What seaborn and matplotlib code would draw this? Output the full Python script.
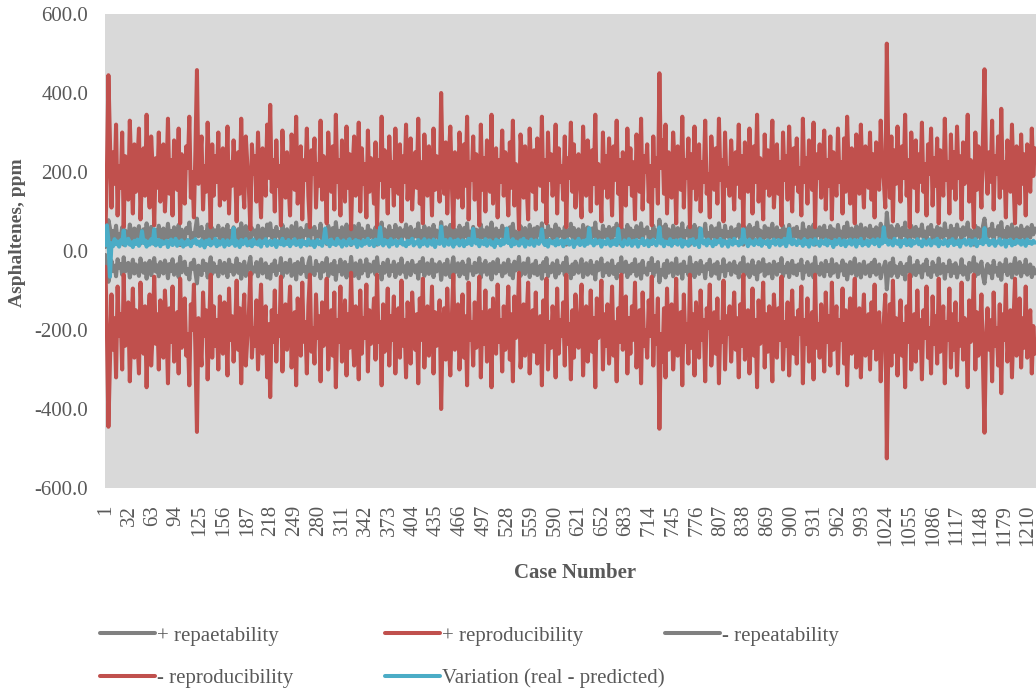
import numpy as np
import pandas as pd
import matplotlib
matplotlib.use("Agg")
import matplotlib.pyplot as plt
import seaborn as sns

# one value every 2 cases (case 1, 3, 5, ...)
case_step = 2
n_cases = 1220

reproducibility = [
    40, 200, 445, 280, 110, 250, 170, 320, 90, 215, 160, 300, 60, 240, 185, 130, 330, 200, 95, 270,
    150, 225, 310, 80, 190, 260, 140, 345, 175, 110, 290, 205, 65, 235, 160, 300, 125, 215, 270, 100,
    185, 335, 145, 230, 90, 280, 195, 155, 310, 70, 245, 180, 120, 265, 210, 340, 135, 200, 85, 255,
    458, 170, 230, 290, 105, 215, 150, 325, 190, 60, 270, 140, 240, 175, 300, 115, 205, 260, 130, 185,
    315, 95, 225, 165, 280, 200, 75, 250, 145, 335, 180, 110, 290, 220, 160, 55, 270, 195, 240, 125,
    300, 170, 85, 260, 210, 140, 320, 185, 370, 150, 230, 100, 280, 165, 215, 65, 305, 190, 135, 250,
    175, 90, 295, 220, 155, 340, 120, 200, 265, 80, 230, 180, 310, 140, 60, 255, 195, 285, 110, 220,
    165, 330, 130, 240, 190, 70, 300, 215, 150, 265, 105, 345, 175, 230, 90, 280, 200, 125, 315, 160,
    245, 55, 210, 290, 140, 185, 325, 100, 260, 170, 220, 85, 305, 150, 235, 195, 120, 275, 60, 230,
    180, 340, 135, 255, 205, 95, 290, 165, 225, 115, 310, 190, 145, 270, 75, 240, 175, 320, 130, 210,
    285, 105, 195, 250, 160, 335, 120, 225, 70, 295, 180, 140, 265, 210, 90, 310, 155, 240, 185, 125,
    400, 200, 145, 275, 95, 230, 315, 170, 60, 250, 190, 135, 300, 215, 110, 270, 165, 340, 80, 225,
    180, 290, 130, 245, 205, 65, 320, 155, 235, 100, 280, 195, 150, 345, 120, 210, 260, 85, 230, 175,
    305, 140, 250, 190, 90, 275, 160, 330, 115, 220, 185, 55, 295, 240, 135, 265, 170, 80, 310, 200,
    150, 255, 105, 285, 210, 165, 340, 125, 230, 70, 300, 180, 245, 140, 195, 320, 95, 260, 175, 215,
    130, 290, 60, 235, 185, 325, 150, 270, 110, 205, 245, 165, 85, 315, 195, 140, 280, 225, 100, 255,
    170, 345, 120, 220, 190, 75, 300, 160, 240, 135, 285, 210, 90, 265, 180, 330, 145, 230, 60, 250,
    195, 115, 310, 170, 260, 140, 225, 80, 295, 185, 150, 335, 105, 240, 200, 270, 125, 215, 65, 290,
    165, 235, 120, 450, 210, 280, 145, 320, 95, 250, 175, 135, 300, 220, 70, 265, 190, 155, 340, 110,
    230, 185, 285, 60, 245, 160, 315, 130, 205, 270, 100, 225, 175, 330, 145, 195, 85, 290, 215, 155,
    260, 120, 335, 180, 230, 75, 300, 165, 210, 140, 280, 195, 105, 250, 170, 320, 135, 240, 60, 275,
    190, 150, 310, 215, 95, 265, 175, 345, 125, 235, 200, 80, 295, 160, 255, 140, 220, 330, 110, 185,
    270, 145, 225, 65, 300, 180, 240, 130, 315, 195, 100, 260, 170, 285, 150, 210, 90, 335, 175, 235,
    120, 280, 200, 155, 325, 60, 245, 185, 270, 135, 215, 305, 105, 230, 165, 290, 80, 250, 195, 140,
    310, 175, 225, 95, 285, 150, 340, 205, 120, 260, 180, 70, 295, 235, 145, 320, 190, 110, 265, 215,
    160, 300, 130, 245, 85, 275, 195, 155, 330, 220, 180, 110, 525, 240, 135, 290, 75, 255, 170, 315,
    200, 125, 265, 185, 345, 140, 230, 60, 300, 210, 160, 280, 100, 245, 175, 325, 150, 220, 90, 270,
    195, 310, 115, 235, 165, 285, 70, 255, 205, 140, 335, 180, 225, 95, 295, 160, 250, 130, 315, 185,
    240, 80, 275, 170, 210, 345, 125, 230, 190, 60, 300, 155, 265, 200, 110, 285, 460, 220, 145, 250,
    175, 330, 105, 240, 195, 290, 135, 360, 160, 225, 85, 280, 210, 150, 320, 180, 70, 265, 230, 120,
    295, 170, 245, 90, 270, 200, 150, 310, 190, 260,
]

repeatability = [
    10, 48, 78, 58, 25, 51, 37, 64, 21, 43, 33, 60, 16, 52, 40, 30, 67, 46, 22, 57,
    34, 49, 63, 19, 42, 55, 31, 70, 39, 25, 61, 45, 18, 52, 36, 64, 28, 48, 57, 24,
    40, 69, 33, 51, 21, 60, 43, 34, 66, 15, 54, 39, 27, 58, 46, 72, 31, 45, 22, 55,
    82, 37, 49, 61, 24, 48, 33, 67, 42, 16, 58, 31, 52, 40, 64, 25, 46, 57, 30, 43,
    66, 22, 51, 36, 60, 45, 19, 55, 33, 70, 40, 27, 63, 49, 34, 15, 58, 42, 52, 28,
    64, 37, 21, 57, 48, 31, 67, 40, 70, 34, 51, 24, 61, 39, 48, 18, 66, 43, 30, 55,
    39, 22, 63, 49, 33, 72, 28, 45, 58, 19, 51, 40, 66, 31, 16, 57, 43, 61, 25, 49,
    36, 69, 30, 52, 42, 18, 64, 48, 33, 58, 25, 73, 39, 51, 22, 60, 45, 28, 67, 36,
    54, 15, 48, 63, 31, 40, 69, 24, 57, 37, 49, 21, 64, 34, 52, 43, 27, 60, 16, 51,
    40, 72, 30, 55, 46, 22, 63, 37, 51, 27, 66, 42, 33, 58, 19, 52, 39, 67, 30, 48,
    61, 25, 43, 54, 36, 70, 28, 51, 18, 63, 40, 31, 58, 48, 22, 66, 34, 52, 42, 28,
    73, 45, 33, 60, 22, 51, 66, 37, 16, 55, 43, 31, 64, 48, 27, 58, 37, 70, 21, 49,
    40, 61, 30, 54, 46, 18, 67, 34, 52, 25, 60, 43, 33, 72, 28, 48, 57, 21, 51, 39,
    64, 31, 55, 42, 22, 60, 36, 69, 27, 49, 40, 15, 63, 52, 31, 58, 37, 19, 66, 45,
    34, 57, 25, 61, 48, 37, 70, 28, 51, 18, 64, 40, 54, 31, 43, 67, 24, 57, 39, 49,
    30, 61, 16, 52, 40, 69, 34, 58, 27, 46, 55, 37, 21, 66, 43, 31, 60, 51, 25, 57,
    37, 72, 28, 49, 42, 19, 64, 36, 54, 31, 61, 48, 24, 58, 40, 69, 33, 51, 16, 55,
    43, 27, 66, 37, 57, 33, 51, 21, 63, 40, 34, 70, 25, 54, 45, 60, 30, 48, 18, 64,
    36, 52, 28, 79, 48, 60, 33, 67, 24, 55, 39, 31, 64, 49, 19, 58, 42, 34, 70, 27,
    51, 40, 61, 16, 54, 36, 66, 30, 46, 58, 25, 51, 39, 69, 33, 45, 22, 63, 48, 34,
    57, 28, 70, 40, 51, 21, 64, 37, 48, 31, 60, 43, 27, 55, 39, 67, 31, 52, 16, 60,
    42, 34, 66, 48, 24, 58, 39, 72, 28, 52, 45, 21, 63, 36, 57, 33, 49, 69, 27, 40,
    60, 33, 51, 18, 64, 40, 54, 30, 66, 43, 25, 57, 37, 61, 34, 48, 22, 70, 39, 52,
    28, 61, 45, 34, 67, 16, 54, 40, 60, 31, 49, 64, 25, 51, 36, 63, 21, 55, 43, 33,
    66, 39, 49, 24, 61, 34, 72, 46, 28, 57, 40, 19, 63, 52, 33, 67, 43, 27, 58, 48,
    36, 64, 30, 54, 22, 60, 43, 34, 69, 49, 40, 27, 97, 52, 31, 63, 19, 55, 39, 66,
    45, 30, 58, 40, 72, 33, 51, 16, 64, 46, 36, 61, 25, 54, 39, 67, 34, 49, 22, 60,
    43, 66, 28, 52, 37, 61, 19, 57, 46, 33, 70, 40, 51, 24, 64, 36, 55, 31, 67, 42,
    54, 21, 60, 39, 48, 72, 30, 52, 42, 16, 64, 34, 58, 45, 27, 63, 82, 49, 33, 55,
    39, 69, 25, 52, 43, 63, 31, 73, 36, 51, 21, 61, 48, 34, 67, 40, 18, 58, 51, 28,
    64, 37, 54, 22, 60, 45, 34, 66, 42, 57,
]

variation = [
    15, 65, 28, -65, 20, 12, 30, 17, 24, 11, 27, 19, 52, 14, 25, 31, 16, 22, 10, 26,
    18, 29, 13, 23, 50, 20, 27, 11, 24, 16, 30, 19, 55, 14, 22, 28, 12, 25, 18, 21,
    26, 10, 23, 29, 15, 20, 31, 13, 24, 18, 27, 11, 22, 16, 28, 19, 12, 25, 21, 30,
    17, 24, 13, 27, 20, 9, 26, 18, 29, 14, 23, 19, 31, 12, 25, 16, 22, 28, 11, 20,
    27, 15, 24, 19, 58, 13, 26, 21, 10, 28, 17, 23, 30, 14, 20, 25, 12, 29, 18, 22,
    16, 27, 11, 24, 20, 30, 13, 22, 26, 15, 19, 28, 10, 25, 21, 17, 31, 14, 23, 18,
    28, 12, 24, 19, 30, 15, 21, 26, 11, 27, 18, 23, 14, 29, 20, 16, 25, 10, 22, 28,
    17, 24, 13, 27, 57, 20, 26, 12, 29, 18, 22, 15, 31, 19, 24, 11, 27, 21, 14, 25,
    30, 16, 23, 19, 28, 10, 25, 21, 13, 27, 18, 24, 31, 15, 22, 26, 12, 29, 20, 17,
    60, 23, 14, 28, 19, 25, 11, 30, 17, 22, 27, 13, 24, 20, 29, 16, 21, 12, 26, 18,
    25, 31, 14, 22, 19, 28, 11, 24, 17, 30, 20, 13, 27, 23, 16, 29, 10, 25, 21, 18,
    62, 24, 13, 28, 20, 16, 30, 22, 11, 26, 19, 29, 14, 23, 27, 12, 25, 18, 31, 21,
    15, 56, 24, 19, 28, 12, 26, 21, 17, 30, 13, 23, 27, 16, 22, 10, 29, 20, 25, 14,
    28, 18, 23, 57, 20, 26, 12, 30, 17, 24, 21, 14, 27, 19, 31, 11, 25, 22, 16, 29,
    20, 13, 27, 24, 18, 30, 55, 21, 15, 26, 11, 28, 23, 19, 25, 14, 30, 17, 22, 27,
    12, 25, 20, 29, 16, 23, 27, 10, 24, 19, 31, 15, 22, 26, 13, 28, 18, 58, 21, 25,
    14, 29, 19, 23, 27, 11, 26, 20, 17, 30, 22, 13, 25, 18, 28, 15, 56, 24, 20, 12,
    27, 21, 16, 30, 23, 13, 26, 19, 28, 11, 24, 20, 31, 15, 22, 27, 12, 25, 18, 29,
    21, 14, 26, 60, 19, 28, 12, 24, 22, 17, 30, 13, 25, 20, 27, 16, 23, 29, 11, 26,
    18, 24, 13, 28, 21, 30, 15, 22, 26, 10, 57, 25, 19, 27, 14, 29, 20, 23, 12, 28,
    17, 25, 22, 30, 13, 26, 19, 24, 11, 28, 21, 16, 31, 20, 23, 14, 27, 18, 55, 22,
    26, 12, 29, 19, 24, 15, 28, 21, 17, 30, 13, 25, 22, 18, 27, 10, 24, 20, 29, 16,
    23, 28, 14, 26, 19, 31, 12, 25, 56, 21, 17, 29, 22, 15, 27, 20, 24, 13, 30, 18,
    25, 11, 28, 22, 16, 30, 19, 24, 13, 27, 21, 18, 29, 14, 26, 20, 23, 10, 28, 17,
    24, 30, 15, 22, 27, 12, 25, 19, 29, 16, 23, 28, 11, 26, 20, 31, 14, 22, 18, 27,
    13, 25, 21, 29, 17, 24, 30, 12, 27, 19, 60, 23, 28, 16, 26, 20, 14, 31, 22, 18,
    27, 11, 25, 20, 29, 15, 23, 28, 13, 26, 19, 22, 30, 17, 24, 12, 28, 21, 16, 25,
    29, 14, 22, 27, 19, 31, 12, 25, 20, 17, 28, 23, 13, 26, 21, 30, 15, 24, 18, 27,
    11, 25, 21, 29, 16, 23, 28, 14, 26, 19, 30, 12, 24, 20, 27, 17, 58, 22, 29, 15,
    25, 19, 28, 13, 24, 21, 30, 16, 22, 27, 11, 26, 20, 29, 14, 23, 18, 28, 21, 25,
    16, 27, 22, 13, 29, 20, 24, 18, 26, 21,
]

series_names = ["+ repaetability", "+ reproducibility", "- repeatability",
                "- reproducibility", "Variation (real - predicted)"]
series_colors = ["#808080", "#C0504D", "#808080", "#C0504D", "#4BACC6"]

tick_cases = list(range(1, n_cases, 31))

# long-form table for seaborn; the minus series mirror the plus series
rep = np.array(repeatability, dtype=float)
repro = np.array(reproducibility, dtype=float)
values = [rep, repro, -rep, -repro, np.array(variation, dtype=float)]
df = pd.concat([pd.DataFrame({"case": np.arange(len(v)) * case_step + 1,
                              "value": v, "series": name})
                for name, v in zip(series_names, values)], ignore_index=True)

sns.set_style("white")
plt.rcParams["font.family"] = ["Liberation Serif", "DejaVu Serif"]
plt.rcParams["path.simplify"] = False  # keep every spike of the dense series
text_color = "#595959"

fig = plt.figure(figsize=(10.36, 6.97), dpi=100)
ax = fig.add_axes([105 / 1036, 1 - 488 / 697, (1036 - 105) / 1036, (488 - 14) / 697])
ax.set_facecolor("#D9D9D9")

sns.lineplot(data=df, x="case", y="value", hue="series", hue_order=series_names,
             palette=dict(zip(series_names, series_colors)), linewidth=2.9,
             estimator=None, sort=False, legend=False, ax=ax)
for line in ax.get_lines():
    line.set_solid_joinstyle("round")

ax.set_xlim(0.5, n_cases + 0.5)
ax.set_ylim(-600, 600)
ax.set_yticks(np.arange(-600, 601, 200))
ax.set_yticklabels([f"{v:.1f}" for v in np.arange(-600, 601, 200)])
ax.set_xticks(tick_cases)
ax.set_xticklabels([str(c) for c in tick_cases], rotation=90)
ax.tick_params(axis="both", length=0, labelsize=15, colors=text_color)
ax.tick_params(axis="y", pad=12)
ax.tick_params(axis="x", pad=12)
sns.despine(ax=ax, left=True, bottom=True)

ax.set_xlabel("Case Number", fontsize=15, fontweight="bold", color=text_color)
ax.set_ylabel("Asphaltenes, ppm", fontsize=14, fontweight="bold", color=text_color)
ax.xaxis.set_label_coords(0.505, -0.158)
ax.yaxis.set_label_coords(-0.085, 0.538)

# Excel-like legend: three evenly spaced columns, filled row by row
lines = ax.get_lines()
columns = [[0, 3], [1, 4], [2]]
col_x = [100, 385, 665]
for idx, x in zip(columns, col_x):
    fig.legend([lines[i] for i in idx], [series_names[i] for i in idx],
               loc="upper left", bbox_to_anchor=(x / 1036, 1 - 626 / 697),
               frameon=False, fontsize=15, handlelength=2.65, handletextpad=0.1,
               labelspacing=1.1, borderpad=0, borderaxespad=0,
               labelcolor=text_color)

fig.savefig("out.png", dpi=100)
